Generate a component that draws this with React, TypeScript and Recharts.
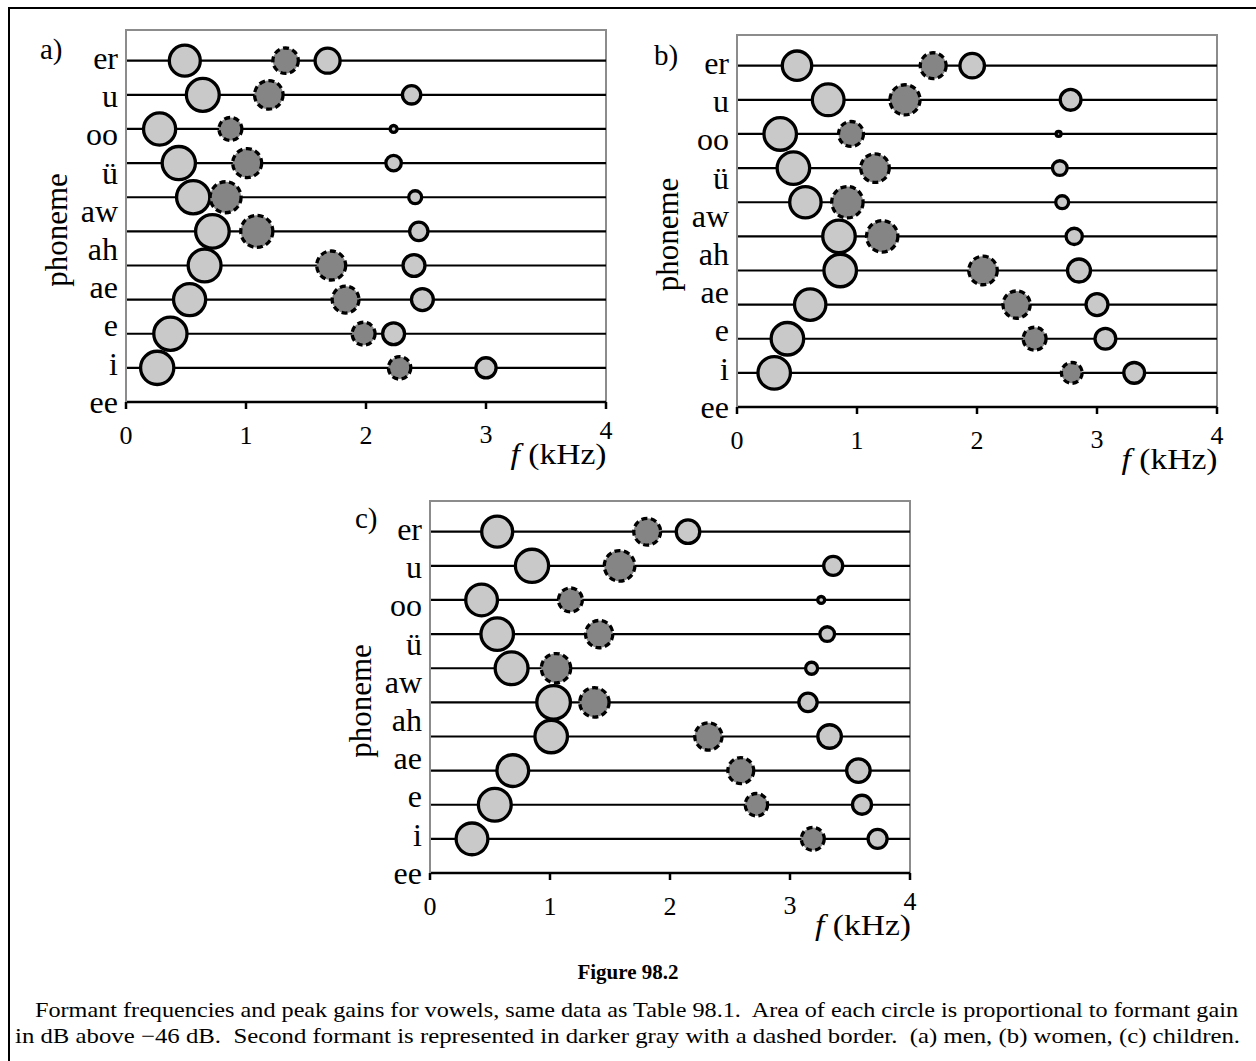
import React from 'react';
import { ScatterChart, Scatter, XAxis, YAxis, ZAxis, ReferenceLine, ReferenceArea } from 'recharts';

// Phonemes, bottom row to top row
const PHONEMES = ['ee', 'i', 'e', 'ae', 'ah', 'aw', 'ü', 'oo', 'u', 'er'];
const X_TICKS = [0, 1, 2, 3, 4];

// (a) men — formant frequencies (kHz) and gains (dB above -46 dB)
const MEN_F1 = [0.26, 0.37, 0.53, 0.655, 0.72, 0.56, 0.44, 0.28, 0.64, 0.49];
const MEN_F2 = [2.28, 1.98, 1.83, 1.71, 1.09, 0.83, 1.01, 0.87, 1.19, 1.33];
const MEN_F3 = [3.0, 2.23, 2.47, 2.4, 2.44, 2.41, 2.23, 2.23, 2.38, 1.68];
const MEN_G1 = [46, 46, 43, 45, 47, 46, 46, 43, 45, 40];
const MEN_G2 = [21, 22, 30, 35, 43, 40, 35, 22, 34, 27];
const MEN_G3 = [17, 20, 20, 20, 14, 7, 10, 2, 14, 26];

// (b) women
const WOMEN_F1 = [0.31, 0.42, 0.61, 0.86, 0.85, 0.57, 0.47, 0.36, 0.76, 0.5];
const WOMEN_F2 = [2.79, 2.48, 2.33, 2.05, 1.21, 0.92, 1.15, 0.95, 1.4, 1.635];
const WOMEN_F3 = [3.31, 3.07, 3.0, 2.85, 2.81, 2.71, 2.69, 2.68, 2.78, 1.96];
const WOMEN_G1 = [44, 44, 41, 44, 44, 41, 44, 44, 42, 36];
const WOMEN_G2 = [18, 22, 31, 34, 41, 41, 34, 26, 38, 28];
const WOMEN_G3 = [18, 18, 20, 22, 11, 7, 9, 1, 18, 25];

// (c) children
const CHILD_F1 = [0.35, 0.54, 0.69, 1.01, 1.03, 0.68, 0.56, 0.43, 0.85, 0.56];
const CHILD_F2 = [3.19, 2.72, 2.59, 2.32, 1.37, 1.05, 1.41, 1.17, 1.58, 1.81];
const CHILD_F3 = [3.73, 3.6, 3.57, 3.33, 3.15, 3.18, 3.31, 3.26, 3.36, 2.15];
const CHILD_G1 = [42, 45, 42, 44, 47, 45, 44, 42, 46, 40];
const CHILD_G2 = [22, 21, 28, 31, 36, 36, 31, 24, 39, 30];
const CHILD_G3 = [15, 15, 23, 23, 14, 6, 9, 2, 15, 23];

const CAPTION_TITLE = 'Figure 98.2';
const CAPTION_1 = 'Formant frequencies and peak gains for vowels, same data as Table 98.1.  Area of each circle is proportional to formant gain';
const CAPTION_2 = 'in dB above \u221246 dB.  Second formant is represented in darker gray with a dashed border.  (a) men, (b) women, (c) children.';

// layout constants
const SERIF = "'Liberation Serif', 'Times New Roman', Times, serif";
const Y_TOP = 10.9;
const LABEL_STEP = 1.12;
const LABEL_TICKS = PHONEMES.map((_, i) => i * LABEL_STEP);
const ROWS = PHONEMES.map((_, i) => i + 1);
const CW = 620;
const CH = 470;
const LIGHT = '#c9c9c9';
const DARK = '#858585';

const makeBubble = (fill: string, dashed: boolean) => (props: any) => {
  const { cx, cy, width, size } = props;
  if (cx == null || cy == null) return null;
  const r = width ? width / 2 : Math.sqrt((size || 0) / Math.PI);
  return (
    <circle
      cx={cx}
      cy={cy}
      r={r}
      fill={fill}
      stroke="#000"
      strokeWidth={3.3}
      strokeDasharray={dashed ? '6 3.5' : undefined}
    />
  );
};

const BubbleLight = makeBubble(LIGHT, false);
const BubbleDark = makeBubble(DARK, true);

const YTick = (props: any) => {
  const { x, y, payload } = props;
  const idx = LABEL_TICKS.findIndex((v) => Math.abs(v - payload.value) < 1e-6);
  return (
    <text x={x} y={y} dy="0.34em" textAnchor="end" fontSize={32} fontFamily={SERIF} fill="#000">
      {PHONEMES[idx]}
    </text>
  );
};

const XTick = (props: any) => {
  const { x, y, payload } = props;
  const raise = payload.value === 4 ? -5 : payload.value === 3 ? -1 : 0;
  return (
    <text x={x} y={y + raise} dy="0.71em" textAnchor="middle" fontSize={26} fontFamily={SERIF} fill="#000">
      {payload.value}
    </text>
  );
};

type PanelProps = {
  x0: number;
  y0: number;
  f1: number[];
  f2: number[];
  f3: number[];
  g1: number[];
  g2: number[];
  g3: number[];
};

function Panel({ x0, y0, f1, f2, f3, g1, g2, g3 }: PanelProps) {
  const build = (f: number[], g: number[]) => PHONEMES.map((p, i) => ({ p, f: f[i], row: ROWS[i], g: g[i] }));
  return (
    <div style={{ position: 'absolute', left: x0 - 125, top: y0 - 30, width: CW, height: CH }}>
      <ScatterChart width={CW} height={CH} margin={{ top: 30, right: 15, left: 45, bottom: 28 }}>
        <XAxis
          type="number"
          dataKey="f"
          domain={[0, 4]}
          ticks={X_TICKS}
          interval={0}
          height={40}
          axisLine={{ stroke: '#000', strokeWidth: 2.5 }}
          tickLine={{ stroke: '#000', strokeWidth: 2.5 }}
          tickSize={7}
          tickMargin={17}
          tick={<XTick />}
        />
        <YAxis
          type="number"
          dataKey="row"
          domain={[0, Y_TOP]}
          ticks={LABEL_TICKS}
          interval={0}
          width={80}
          axisLine={{ stroke: '#8c8c8c', strokeWidth: 2 }}
          tickLine={false}
          tickSize={0}
          tickMargin={8}
          tick={<YTick />}
        />
        <ZAxis type="number" dataKey="g" domain={[0, 50]} range={[0, 943]} />
        <ReferenceArea x1={0} x2={4} y1={0} y2={Y_TOP} stroke="#8c8c8c" strokeWidth={2} fill="none" fillOpacity={0} />
        {ROWS.map((r) => (
          <ReferenceLine key={r} y={r} stroke="#000" strokeWidth={2.2} />
        ))}
        <Scatter data={build(f1, g1)} shape={BubbleLight} isAnimationActive={false} />
        <Scatter data={build(f2, g2)} shape={BubbleDark} isAnimationActive={false} />
        <Scatter data={build(f3, g3)} shape={BubbleLight} isAnimationActive={false} />
      </ScatterChart>
    </div>
  );
}

const PANELS = [
  { key: 'a', tag: 'a)', x0: 125.5, y0: 30, tagX: 40, tagY: 59, f1: MEN_F1, f2: MEN_F2, f3: MEN_F3, g1: MEN_G1, g2: MEN_G2, g3: MEN_G3 },
  { key: 'b', tag: 'b)', x0: 736.5, y0: 34.5, tagX: 654, tagY: 65, f1: WOMEN_F1, f2: WOMEN_F2, f3: WOMEN_F3, g1: WOMEN_G1, g2: WOMEN_G2, g3: WOMEN_G3 },
  { key: 'c', tag: 'c)', x0: 430, y0: 501, tagX: 355, tagY: 528, f1: CHILD_F1, f2: CHILD_F2, f3: CHILD_F3, g1: CHILD_G1, g2: CHILD_G2, g3: CHILD_G3 },
];

export default function App() {
  return (
    <div
      style={{
        position: 'absolute',
        left: 0,
        top: 0,
        width: 1256,
        height: 1061,
        overflow: 'hidden',
        background: '#fff',
      }}
    >
      <div
        style={{
          position: 'absolute',
          left: 8,
          top: 7,
          width: 1280,
          height: 1100,
          border: '2px solid #000',
        }}
      />
      {PANELS.map((p) => (
        <Panel key={p.key} x0={p.x0} y0={p.y0} f1={p.f1} f2={p.f2} f3={p.f3} g1={p.g1} g2={p.g2} g3={p.g3} />
      ))}
      <svg
        width={1256}
        height={1061}
        style={{ position: 'absolute', left: 0, top: 0, pointerEvents: 'none' }}
      >
        {PANELS.map((p) => (
          <g key={p.key} fontFamily={SERIF} fill="#000">
            <text x={p.tagX} y={p.tagY} fontSize={29}>
              {p.tag}
            </text>
            <text
              transform={`translate(${p.x0 - 59}, ${p.y0 + 200}) rotate(-90)`}
              textAnchor="middle"
              fontSize={31}
            >
              phoneme
            </text>
            <text x={p.x0 + 385} y={p.y0 + 434} fontSize={30} textLength={96} lengthAdjust="spacingAndGlyphs">
              <tspan fontStyle="italic">f</tspan>
              <tspan> (kHz)</tspan>
            </text>
          </g>
        ))}
        <g fontFamily={SERIF} fill="#000">
          <text x={628} y={979} fontSize={21} fontWeight="bold" textAnchor="middle">
            {CAPTION_TITLE}
          </text>
          <text
            x={35}
            y={1017}
            fontSize={21}
            textLength={1203}
            lengthAdjust="spacingAndGlyphs"
            style={{ whiteSpace: 'pre' }}
          >
            {CAPTION_1}
          </text>
          <text
            x={15}
            y={1043}
            fontSize={21}
            textLength={1225}
            lengthAdjust="spacingAndGlyphs"
            style={{ whiteSpace: 'pre' }}
          >
            {CAPTION_2}
          </text>
        </g>
      </svg>
    </div>
  );
}
